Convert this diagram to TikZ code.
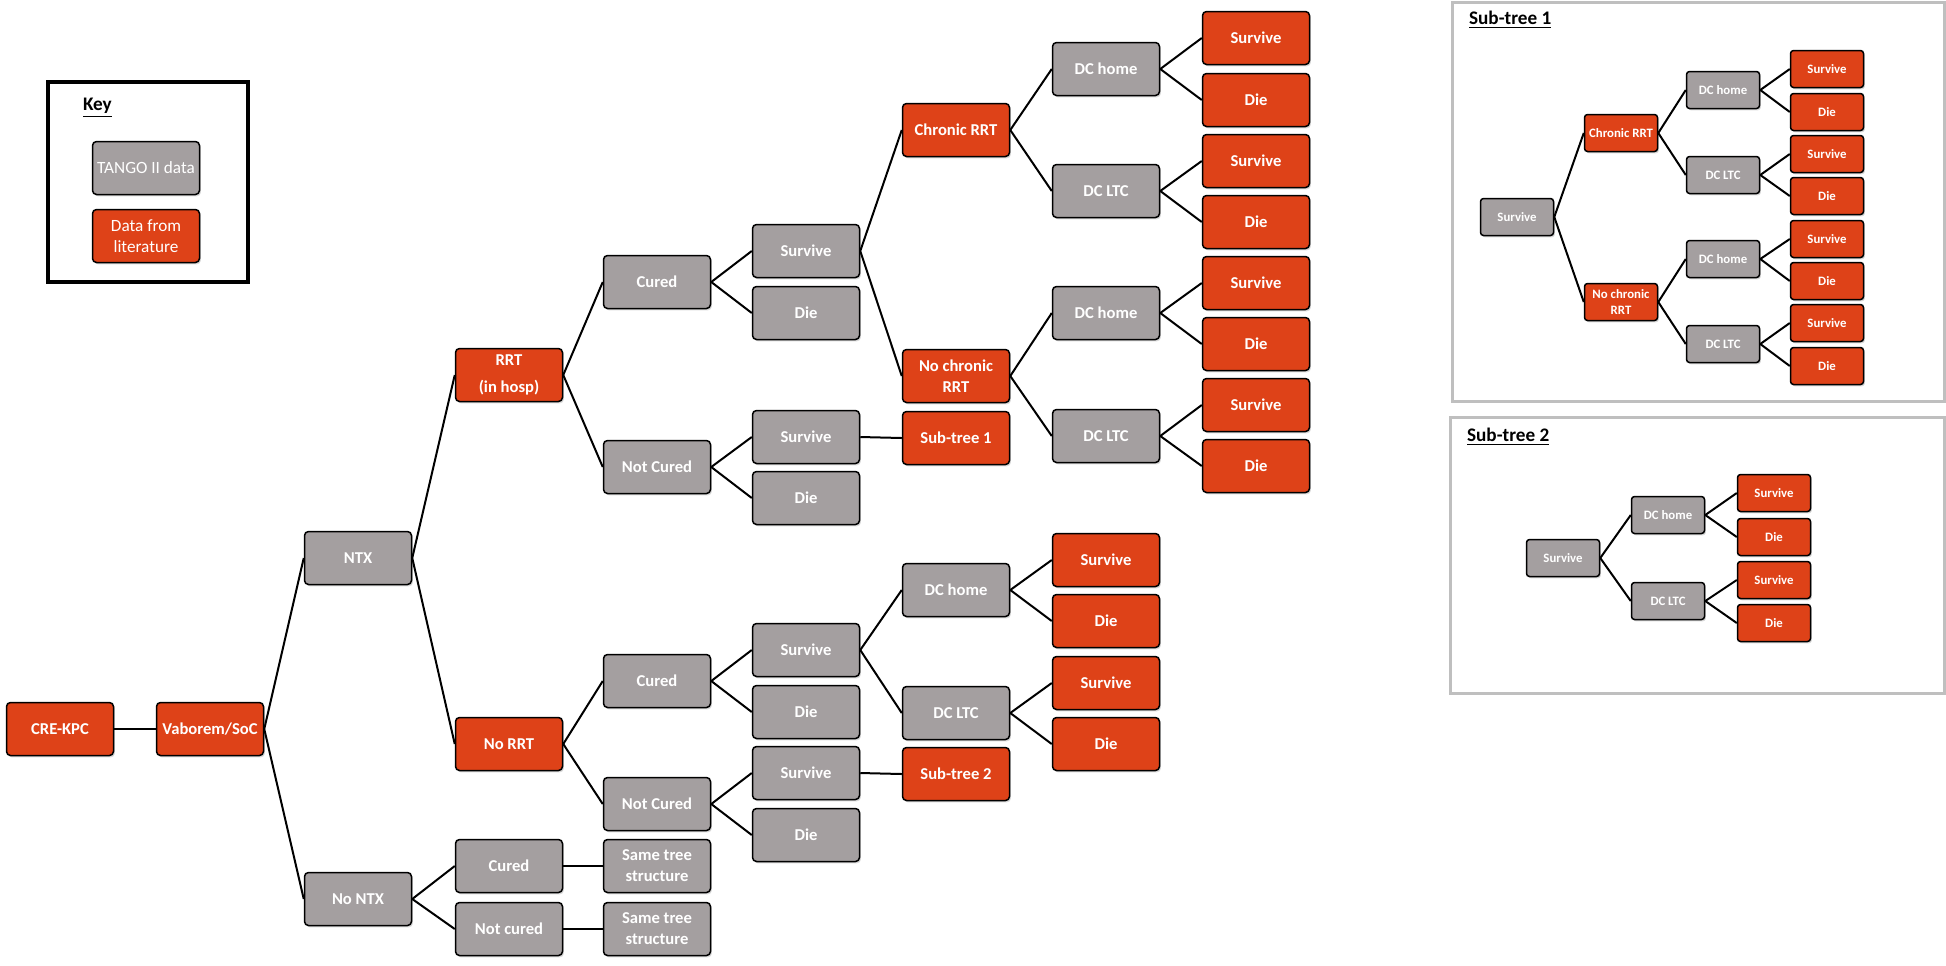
\documentclass[tikz,border=0pt]{standalone}
\usepackage{fontspec}
\setmainfont{Carlito}
\usetikzlibrary{shadows}
\definecolor{tred}{RGB}{222,66,24}
\definecolor{tgray}{RGB}{164,159,160}

\begin{document}
\begin{tikzpicture}[x=0.5pt,y=-0.5pt,
  box/.style={draw=black,line width=0.75pt,rounded corners=2pt,text=white,
    align=center,inner sep=1pt,minimum width=53.5pt,minimum height=26.5pt,
    font=\fontsize{8.3}{10.5}\selectfont\bfseries,
    drop shadow={shadow xshift=0.7pt,shadow yshift=-0.9pt,opacity=0.3}},
  gbox/.style={box,fill=tgray},
  rbox/.style={box,fill=tred},
  sbox/.style={minimum width=36.5pt,minimum height=18.5pt,
    font=\fontsize{6.4}{7.6}\selectfont\bfseries,rounded corners=1.5pt},
  keytxt/.style={font=\fontsize{8.6}{10.5}\selectfont},
  link/.style={line width=1pt},
  title/.style={anchor=west,font=\fontsize{9.6}{12}\selectfont\bfseries}]
\useasboundingbox (0,0) rectangle (1946,965);
% ---- key ----
\draw[line width=2pt] (48,82) rectangle (248,282);
\node[title] (keyttl) at (76,108) {\underline{Key}};
\node[gbox,keytxt] (keyg) at (146,168) {TANGO II data};
\node[rbox,keytxt] (keyr) at (146,236) {Data from\\literature};
% ---- main tree ----
\node[rbox] (cre) at (60,729) {CRE-KPC};
\node[rbox] (vab) at (210,729) {Vaborem/SoC};
\node[gbox] (ntx) at (358,558) {NTX};
\node[gbox] (nontx) at (358,899) {No NTX};
\node[rbox] (rrt) at (509,375) {RRT\\[3pt](in hosp)};
\node[rbox] (norrt) at (509,744) {No RRT};
\node[gbox] (cur1) at (657,282) {Cured};
\node[gbox] (ncur1) at (657,467) {Not Cured};
\node[gbox] (sv1) at (806,251) {Survive};
\node[gbox] (die1) at (806,313) {Die};
\node[gbox] (sv2) at (806,437) {Survive};
\node[gbox] (die2) at (806,498) {Die};
\node[rbox] (chr) at (956,130) {Chronic RRT};
\node[rbox] (nochr) at (956,376) {No chronic\\RRT};
\node[rbox] (sub1) at (956,438) {Sub-tree 1};
\node[gbox] (dch1) at (1106,69) {DC home};
\node[gbox] (dcl1) at (1106,191) {DC LTC};
\node[gbox] (dch2) at (1106,313) {DC home};
\node[gbox] (dcl2) at (1106,436) {DC LTC};
\foreach \i/\y/\t in {1/38/Survive,2/100/Die,3/161/Survive,4/222/Die,
    5/283/Survive,6/344/Die,7/405/Survive,8/466/Die}
  \node[rbox] (l\i) at (1256,\y) {\t};
% no RRT branch
\node[gbox] (cur2) at (657,681) {Cured};
\node[gbox] (ncur2) at (657,804) {Not Cured};
\node[gbox] (sv3) at (806,650) {Survive};
\node[gbox] (die3) at (806,712) {Die};
\node[gbox] (sv4) at (806,773) {Survive};
\node[gbox] (die4) at (806,835) {Die};
\node[gbox] (dch3) at (956,590) {DC home};
\node[gbox] (dcl3) at (956,713) {DC LTC};
\node[rbox] (sub2) at (956,774) {Sub-tree 2};
\foreach \i/\y/\t in {1/560/Survive,2/621/Die,3/683/Survive,4/744/Die}
  \node[rbox] (m\i) at (1106,\y) {\t};
% no NTX branch
\node[gbox] (cur3) at (509,866) {Cured};
\node[gbox] (ncur3) at (509,929) {Not cured};
\node[gbox] (same1) at (657,866) {Same tree\\structure};
\node[gbox] (same2) at (657,929) {Same tree\\structure};
\foreach \a/\b in {cre/vab,vab/ntx,vab/nontx,ntx/rrt,ntx/norrt,
    rrt/cur1,rrt/ncur1,cur1/sv1,cur1/die1,ncur1/sv2,ncur1/die2,
    sv1/chr,sv1/nochr,sv2/sub1,chr/dch1,chr/dcl1,nochr/dch2,nochr/dcl2,
    dch1/l1,dch1/l2,dcl1/l3,dcl1/l4,dch2/l5,dch2/l6,dcl2/l7,dcl2/l8,
    norrt/cur2,norrt/ncur2,cur2/sv3,cur2/die3,ncur2/sv4,ncur2/die4,
    sv3/dch3,sv3/dcl3,sv4/sub2,dch3/m1,dch3/m2,dcl3/m3,dcl3/m4,
    nontx/cur3,nontx/ncur3,cur3/same1,ncur3/same2}
  \draw[link] (\a.east) -- (\b.west);
% ---- sub-tree 1 ----
\draw[gray!50,line width=1.5pt] (1452,2) rectangle (1944,401);
\node[title] (ttl1) at (1462,20) {\underline{Sub-tree 1}};
\node[gbox,sbox] (a0) at (1517,217) {Survive};
\node[rbox,sbox] (achr) at (1621,133) {Chronic RRT};
\node[rbox,sbox] (anochr) at (1621,302) {No chronic\\RRT};
\node[gbox,sbox] (adch1) at (1723,90) {DC home};
\node[gbox,sbox] (adcl1) at (1723,175) {DC LTC};
\node[gbox,sbox] (adch2) at (1723,259) {DC home};
\node[gbox,sbox] (adcl2) at (1723,344) {DC LTC};
\foreach \i/\y/\t in {1/69/Survive,2/112/Die,3/154/Survive,4/196/Die,
    5/239/Survive,6/281/Die,7/323/Survive,8/366/Die}
  \node[rbox,sbox] (a\i) at (1827,\y) {\t};
\foreach \a/\b in {a0/achr,a0/anochr,achr/adch1,achr/adcl1,anochr/adch2,
    anochr/adcl2,adch1/a1,adch1/a2,adcl1/a3,adcl1/a4,adch2/a5,adch2/a6,
    adcl2/a7,adcl2/a8}
  \draw[link] (\a.east) -- (\b.west);
% ---- sub-tree 2 ----
\draw[gray!50,line width=1.5pt] (1450,417) rectangle (1944,693);
\node[title] (ttl2) at (1460,437) {\underline{Sub-tree 2}};
\node[gbox,sbox] (b0) at (1563,558) {Survive};
\node[gbox,sbox] (bdch) at (1668,515) {DC home};
\node[gbox,sbox] (bdcl) at (1668,601) {DC LTC};
\foreach \i/\y/\t in {1/493/Survive,2/537/Die,3/580/Survive,4/623/Die}
  \node[rbox,sbox] (b\i) at (1774,\y) {\t};
\foreach \a/\b in {b0/bdch,b0/bdcl,bdch/b1,bdch/b2,bdcl/b3,bdcl/b4}
  \draw[link] (\a.east) -- (\b.west);
\end{tikzpicture}
\end{document}
